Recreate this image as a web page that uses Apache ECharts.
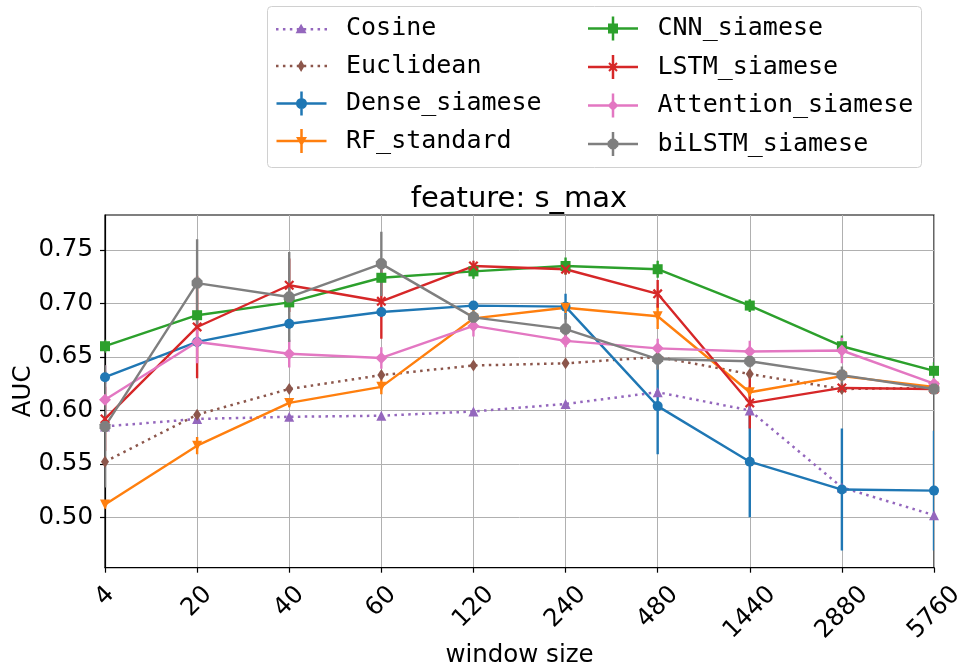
<!DOCTYPE html>
<html>
<head>
<meta charset="utf-8">
<script src="https://cdn.jsdelivr.net/npm/echarts@6/dist/echarts.min.js"></script>
<style>
  html, body { margin: 0; padding: 0; background: #fff; }
  #chart { width: 961px; height: 672px; }
</style>
</head>
<body>
<div id="chart"></div>
<script>
// Window sizes on the x axis (categorical, evenly spaced)
const windowSizes = ['4', '20', '40', '60', '120', '240', '480', '1440', '2880', '5760'];
const yTicks = [0.50, 0.55, 0.60, 0.65, 0.70, 0.75];

// Mean AUC per window size, and the half-width of the error bar where present
const cosine        = [0.585, 0.592, 0.594, 0.595, 0.599, 0.606, 0.617, 0.600, 0.528, 0.502];
const euclidean     = [0.552, 0.596, 0.620, 0.633, 0.642, 0.644, 0.650, 0.634, 0.620, 0.621];
const dense         = [0.631, 0.664, 0.681, 0.692, 0.698, 0.697, 0.604, 0.552, 0.526, 0.525];
const denseErr      = [0.006, 0.005, 0.005, 0.005, 0.004, 0.012, 0.045, 0.052, 0.057, 0.056];
const rf            = [0.512, 0.567, 0.607, 0.622, 0.686, 0.696, 0.688, 0.617, 0.632, 0.622];
const rfErr         = [0.004, 0.008, 0.004, 0.007, 0.008, 0.005, 0.012, 0.006, 0.005, 0.004];
const cnn           = [0.660, 0.689, 0.701, 0.724, 0.730, 0.735, 0.732, 0.698, 0.660, 0.637];
const cnnErr        = [0.006, 0.005, 0.004, 0.004, 0.007, 0.008, 0.008, 0.006, 0.010, 0.008];
const lstm          = [0.592, 0.678, 0.717, 0.702, 0.735, 0.732, 0.709, 0.607, 0.621, 0.620];
const lstmErr       = [0.030, 0.048, 0.025, 0.035, 0.005, 0.005, 0.013, 0.024, 0.005, 0.004];
const attention     = [0.610, 0.664, 0.653, 0.649, 0.679, 0.665, 0.658, 0.655, 0.656, 0.625];
const attentionErr  = [0.032, 0.020, 0.013, 0.010, 0.010, 0.006, 0.009, 0.010, 0.012, 0.005];
const bilstm        = [0.585, 0.719, 0.706, 0.737, 0.687, 0.676, 0.648, 0.646, 0.633, 0.620];
const bilstmErr     = [0.057, 0.041, 0.042, 0.030, 0.006, 0.014, 0.010, 0.006, 0.008, 0.004];

const C = {
  blue: '#1f77b4', orange: '#ff7f0e', green: '#2ca02c', red: '#d62728',
  purple: '#9467bd', brown: '#8c564b', pink: '#e377c2', gray: '#7f7f7f'
};

// ---- marker shapes (paths centred on 25,12 for legend icons) ----
function octagon(cx, cy, r) {
  let d = '';
  for (let k = 0; k < 8; k++) {
    const a = Math.PI / 8 + k * Math.PI / 4;
    d += (k === 0 ? 'M' : 'L') + (cx + r * Math.cos(a)).toFixed(2) + ' ' + (cy + r * Math.sin(a)).toFixed(2);
  }
  return d + 'Z';
}
const mk = {
  circle: 'M30.5 12A5.5 5.5 0 1 1 19.5 12A5.5 5.5 0 1 1 30.5 12Z',
  triDown: 'M19.5 8L30.5 8L25 17.5Z',
  triUp: 'M25 6.5L30.5 16L19.5 16Z',
  square: 'M20 7H30V17H20Z',
  cross: 'M20.3 8.7L21.7 7.3L29.7 15.3L28.3 16.7Z M28.3 7.3L29.7 8.7L21.7 16.7L20.3 15.3Z',
  diamond: 'M25 6.5L30.5 12L25 17.5L19.5 12Z',
  thinDiamond: 'M25 6L28.5 12L25 18L21.5 12Z',
  octagon: octagon(25, 12, 5.8)
};
function errIcon(marker) {
  return 'path://M0 10.75H50V13.25H0Z M23.75 0H26.25V24H23.75Z ' + marker;
}
function dotIcon(marker) {
  let d = '';
  for (let k = 0; k < 8; k++) {
    const x = k * 6.9;
    d += 'M' + x.toFixed(2) + ' 10.75H' + (x + 2.5).toFixed(2) + 'V13.25H' + x.toFixed(2) + 'Z ';
  }
  return 'path://' + d + marker;
}

// series symbol for the 'x' marker and the octagon
const crossSymbol = 'path://M0 1.6L1.6 0L10 8.4L8.4 10Z M8.4 0L10 1.6L1.6 10L0 8.4Z';
const octSymbol = 'path://' + octagon(10, 10, 10);

function lineSeries(name, values, color, symbol, size, extra) {
  return Object.assign({
    type: 'line',
    name: name,
    data: values,
    color: color,
    symbol: symbol,
    symbolSize: size,
    showSymbol: true,
    showAllSymbol: true,
    itemStyle: { color: color, borderWidth: 0 },
    lineStyle: { color: color, width: 2.4 },
    emphasis: { disabled: true },
    animation: false,
    clip: true
  }, extra || {});
}

function errorSeries(name, values, errs, color) {
  return {
    type: 'custom',
    name: name,
    data: values.map((v, i) => [i, v - errs[i], v + errs[i]]),
    encode: { x: 0, y: [1, 2] },
    clip: true,
    animation: false,
    silent: true,
    renderItem: function (params, api) {
      const lo = api.coord([api.value(0), api.value(1)]);
      const hi = api.coord([api.value(0), api.value(2)]);
      return {
        type: 'line',
        shape: { x1: lo[0], y1: lo[1], x2: hi[0], y2: hi[1] },
        style: { stroke: color, lineWidth: 2.4 }
      };
    }
  };
}

const dotted = { type: [2.5, 4.4], cap: 'butt' };

const series = [
  lineSeries('Cosine', cosine, C.purple, 'triangle', 10,
    { lineStyle: Object.assign({ color: C.purple, width: 2.5 }, dotted) }),
  lineSeries('Euclidean', euclidean, C.brown, 'diamond', [8, 12],
    { lineStyle: Object.assign({ color: C.brown, width: 2.5 }, dotted) }),
  lineSeries('Dense_siamese', dense, C.blue, 'circle', 10),
  errorSeries('Dense_siamese', dense, denseErr, C.blue),
  lineSeries('RF_standard', rf, C.orange, 'triangle', 10, { symbolRotate: 180 }),
  errorSeries('RF_standard', rf, rfErr, C.orange),
  lineSeries('CNN_siamese', cnn, C.green, 'rect', 10),
  errorSeries('CNN_siamese', cnn, cnnErr, C.green),
  lineSeries('LSTM_siamese', lstm, C.red, crossSymbol, 10),
  errorSeries('LSTM_siamese', lstm, lstmErr, C.red),
  lineSeries('Attention_siamese', attention, C.pink, 'diamond', [12, 12]),
  errorSeries('Attention_siamese', attention, attentionErr, C.pink),
  lineSeries('biLSTM_siamese', bilstm, C.gray, octSymbol, 11),
  errorSeries('biLSTM_siamese', bilstm, bilstmErr, C.gray)
];

const legendText = {
  fontFamily: 'DejaVu Sans Mono', fontSize: 25, lineHeight: 24, color: '#000',
  padding: [0, 0, 0, 14]
};
const legendBase = {
  orient: 'vertical', itemWidth: 51, itemHeight: 24, padding: 0,
  symbolKeepAspect: true, selectedMode: false,
  itemStyle: { borderWidth: 0 },
  textStyle: legendText
};

// label padding keeps every rotated tick label centred on its tick with a common top line
const labelFont = { fontFamily: 'DejaVu Sans', fontSize: 24.5, color: '#000' };
const xRich = {
  p1: Object.assign({ padding: [0, 0, 23.4, 23.4] }, labelFont),
  p2: Object.assign({ padding: [0, 0, 15.6, 15.6] }, labelFont),
  p3: Object.assign({ padding: [0, 0, 7.8, 7.8] }, labelFont),
  p4: Object.assign({}, labelFont)
};

const option = {
  backgroundColor: '#fff',
  animation: false,
  title: {
    text: 'feature: s_max',
    left: 519, top: 185, textAlign: 'center', padding: 0,
    textStyle: { fontFamily: 'DejaVu Sans', fontSize: 29, fontWeight: 'normal', color: '#000' }
  },
  graphic: [{
    type: 'rect', z: 0,
    shape: { x: 267.5, y: 6.5, width: 654, height: 161, r: 4 },
    style: { fill: 'none', stroke: '#d0d0d0', lineWidth: 1 }
  }],
  legend: [
    Object.assign({}, legendBase, {
      left: 276, top: 16, itemGap: 12.5,
      data: [
        { name: 'Cosine', icon: dotIcon(mk.triUp) },
        { name: 'Euclidean', icon: dotIcon(mk.thinDiamond) },
        { name: 'Dense_siamese', icon: errIcon(mk.circle) },
        { name: 'RF_standard', icon: errIcon(mk.triDown) }
      ]
    }),
    Object.assign({}, legendBase, {
      left: 588, top: 16, itemGap: 13.5,
      data: [
        { name: 'CNN_siamese', icon: errIcon(mk.square) },
        { name: 'LSTM_siamese', icon: errIcon(mk.cross) },
        { name: 'Attention_siamese', icon: errIcon(mk.diamond) },
        { name: 'biLSTM_siamese', icon: errIcon(mk.octagon) }
      ]
    })
  ],
  grid: {
    left: 105, right: 27, top: 215, bottom: 104.3,
    show: true, borderColor: '#000', borderWidth: 1.2,
    containLabel: false, outerBoundsMode: 'none'
  },
  xAxis: {
    type: 'category',
    data: windowSizes,
    boundaryGap: false,
    name: 'window size',
    nameLocation: 'middle',
    nameGap: 75,
    nameMoveOverlap: false,
    nameTextStyle: { fontFamily: 'DejaVu Sans', fontSize: 24.5, color: '#000' },
    axisLine: { show: true, lineStyle: { color: '#000', width: 1.2 } },
    axisTick: { show: true, length: 5, alignWithLabel: true, lineStyle: { color: '#000', width: 1.2 } },
    splitLine: { show: true, lineStyle: { color: '#b0b0b0', width: 1 } },
    axisLabel: {
      interval: 0, rotate: 45, align: 'center', verticalAlign: 'middle', margin: 45,
      formatter: v => '{p' + v.length + '|' + v + '}',
      rich: xRich
    }
  },
  yAxis: {
    type: 'value',
    min: 0.4529, max: 0.7827,
    name: 'AUC',
    nameLocation: 'middle',
    nameRotate: 90,
    nameGap: 69,
    nameMoveOverlap: false,
    nameTextStyle: { fontFamily: 'DejaVu Sans', fontSize: 24.5, color: '#000' },
    axisLine: { show: true, lineStyle: { color: '#000', width: 1.2 } },
    axisTick: { show: true, length: 5, customValues: yTicks, lineStyle: { color: '#000', width: 1.2 } },
    splitLine: { show: true, lineStyle: { color: '#b0b0b0', width: 1 } },
    axisLabel: {
      customValues: yTicks, margin: 12,
      formatter: v => v.toFixed(2),
      fontFamily: 'DejaVu Sans', fontSize: 24.5, color: '#000'
    }
  },
  series: series
};

const chart = echarts.init(document.getElementById('chart'), null, { renderer: 'canvas' });
chart.setOption(option);
</script>
</body>
</html>
